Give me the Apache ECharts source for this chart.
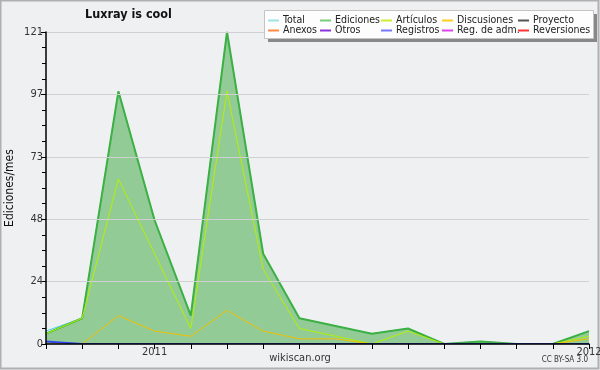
<!DOCTYPE html>
<html><head><meta charset="utf-8">
<script src="https://cdn.jsdelivr.net/npm/echarts@6/dist/echarts.min.js"></script>
<style>html,body{margin:0;padding:0;background:#eff0f2}#c{width:600px;height:370px}</style>
</head><body><div id="c"></div>
<script>
const months = ['2010-10','2010-11','2010-12','2011-01','2011-02','2011-03','2011-04','2011-05','2011-06','2011-07','2011-08','2011-09','2011-10','2011-11','2011-12','2012-01'];
const tickLabels = ['','','','2011','','','','','','','','','','','','2012'];
const total       = [5,10,98,48,11,121,35,10,7,4,6,0,1,0,0,5];
const ediciones   = [4,10,98,48,11,121,35,10,7,4,6,0,1,0,0,5];
const articulos   = [4,10,64,35,6,98,29,6,3,0,5,0,0,0,0,3];
const discusiones = [0,0,11,5,3,13,5,2,2,0,0,0,0,0,0,2];
const registros   = [1,0,0,0,0,0,0,0,0,0,0,0,0,0,0,0];
const yTicks = [0,24,48,73,97,121];

const FONT = 'DejaVu Sans Condensed';
const chart = echarts.init(document.getElementById('c'), null, {renderer:'canvas'});
const colors = {
  'Total':'#3fd0dc','Ediciones':'#3cb043','Artículos':'#b4f000','Discusiones':'#f0c000','Proyecto':'#555555',
  'Anexos':'#ff7f40','Otros':'#8a2be2','Registros':'#3344ee','Reg. de adm.':'#dd33ee','Reversiones':'#ff2a2a'
};
const legendColors = {
  'Total':'#9fe3e3','Ediciones':'#77cc77','Artículos':'#ccee33','Discusiones':'#ffcc22','Proyecto':'#555555',
  'Anexos':'#ff8844','Otros':'#8833dd','Registros':'#7777ff','Reg. de adm.':'#dd44ee','Reversiones':'#ff3333'
};
const legendCols = [['Total','Anexos'],['Ediciones','Otros'],['Artículos','Registros'],['Discusiones','Reg. de adm.'],['Proyecto','Reversiones']];
const legendX = [268,320,381,442,518];

function lineSeries(name, data, extra){
  return Object.assign({
    name, type:'line', data, symbol:'none', smooth:false,
    lineStyle:{width:1, color:colors[name]}, itemStyle:{color:colors[name]}
  }, extra||{});
}

const series = [
  lineSeries('Total', total),
  lineSeries('Ediciones', ediciones, {lineStyle:{width:2,color:colors['Ediciones']}, areaStyle:{color:'#93cb97', opacity:1}}),
  lineSeries('Artículos', articulos),
  lineSeries('Discusiones', discusiones),
  lineSeries('Registros', registros, {lineStyle:{width:2,color:colors['Registros']}}),
  lineSeries('Proyecto', []),
  lineSeries('Anexos', []),
  lineSeries('Otros', []),
  lineSeries('Reg. de adm.', []),
  lineSeries('Reversiones', [])
];

chart.setOption({
  animation:false,
  backgroundColor:'#eff0f2',
  textStyle:{fontFamily:FONT},
  title:{text:'Luxray is cool', left:85, top:8, padding:0, textStyle:{fontFamily:FONT, fontSize:12.5, fontWeight:'bold', color:'#111'}},
  legend: legendCols.map((col,i)=>({
    data:col.map(n=>({name:n, icon:'rect', itemStyle:{color:legendColors[n]}})), orient:'vertical', left:legendX[i], top:15,
    itemWidth:11, itemHeight:2, itemGap:-1, selectedMode:false, padding:0,
    textStyle:{fontFamily:FONT, fontSize:10.5, color:'#222', padding:[0,0,0,-1]}, z:10
  })),
  grid:{left:46, right:11, top:32, bottom:26, containLabel:false, outerBoundsMode:'none'},
  xAxis:{
    type:'category', data:months, boundaryGap:false, z:5,
    axisLine:{lineStyle:{color:'#000', width:1.5}},
    axisTick:{show:true, interval:0, length:5, lineStyle:{color:'#000'}},
    axisLabel:{interval:0, formatter:(v,i)=>tickLabels[i], fontFamily:FONT, fontSize:11, color:'#333', margin:3},
    splitLine:{show:false}
  },
  yAxis:{
    type:'value', min:0, max:121, interval:24.2, z:5,
    name:'Ediciones/mes', nameLocation:'middle', nameGap:30, nameRotate:90, nameMoveOverlap:false,
    nameTextStyle:{fontFamily:FONT, fontSize:12, color:'#111'},
    axisLine:{show:true, lineStyle:{color:'#000', width:1.5}},
    axisTick:{show:true, length:5, lineStyle:{color:'#000'}},
    minorTick:{show:true, splitNumber:4, length:4, lineStyle:{color:'#000'}},
    axisLabel:{formatter:v=>String(yTicks[Math.round(v/24.2)]), fontFamily:FONT, fontSize:11, color:'#333', margin:3},
    splitLine:{show:true, lineStyle:{color:'#cfd0d2', width:1}}
  },
  graphic:[
    {type:'rect', shape:{x:0.5,y:0.5,width:598,height:368}, style:{fill:'none', stroke:'#b0b0b0', lineWidth:2}, z:-1, silent:true},
    {type:'rect', shape:{x:268,y:14,width:329,height:28}, style:{fill:'#888'}, z:5, silent:true},
    {type:'rect', shape:{x:264.5,y:10.5,width:329,height:28}, style:{fill:'#fdfdfd', stroke:'#c4c4c4', lineWidth:1}, z:6, silent:true},
    {type:'text', left:'center', top:353, style:{text:'wikiscan.org', font:'11px "DejaVu Sans Condensed"', fill:'#333'}},
    {type:'text', right:12, top:356, style:{text:'CC BY-SA 3.0', font:'8px "DejaVu Sans Condensed"', fill:'#333'}}
  ],
  series
});
</script></body></html>
